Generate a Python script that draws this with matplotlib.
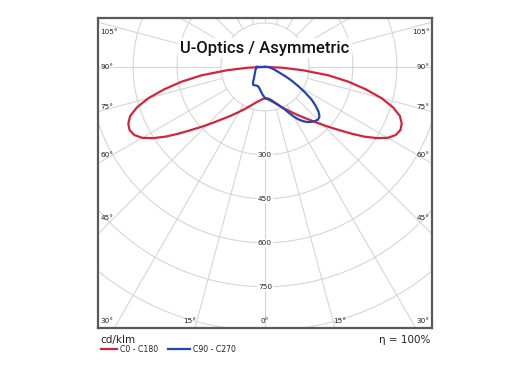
import numpy as np
import matplotlib
matplotlib.use("Agg")
import matplotlib.pyplot as plt
from matplotlib.lines import Line2D

# ---- data (cd/klm vs gamma angle from nadir, degrees) ----
gamma = [0, 2.5, 5, 7.5, 10, 12.5, 15, 17.5, 20, 22.5, 25, 27.5, 30, 32.5, 35, 37.5,
         40, 42.5, 45, 47.5, 50, 52.5, 55, 57.5, 60, 62.5, 65, 67.5, 70, 72.5, 75,
         77.5, 80, 82.5, 85, 87.5, 90]
c0_c180 = [108, 109, 111, 114, 118, 122, 127, 133, 140, 148, 157, 166, 177, 189, 203, 218,
           235, 256, 280, 307, 338, 375, 415, 452, 484, 503, 510, 505, 490, 458, 412,
           352, 288, 218, 130, 58, 0]
c90 = [106, 107, 108, 111, 114, 119, 125, 132, 140, 149, 160, 177, 195, 212, 226, 237,
       245, 251, 255, 252, 239, 218, 194, 162, 131, 105, 80, 58, 45, 37, 31,
       25, 20, 16, 14, 12, 11]
c270 = [106, 100, 95, 89, 84, 79, 75, 72, 70, 70, 70, 71, 72, 73, 72, 67,
        62, 57, 53, 50, 47, 45, 43, 41, 39, 38, 37, 36, 35, 34, 33,
        32, 31, 30, 29, 28, 28]

ring_values = [150, 300, 450, 600, 750, 900]
ring_labels = [300, 450, 600, 750]
radial_angles = list(range(0, 360, 15))

side_labels = ["105°", "90°", "75°", "60°", "45°"]
side_label_y = [118, 0, -136, -300, -515]
bottom_labels = ["30°", "15°", "0°", "15°", "30°"]
bottom_label_x = [-530, -256, 0, 256, 530]

title = "U-Optics / Asymmetric"
unit = "cd/klm"
eta = "η = 100%"
legend_names = ["C0 - C180", "C90 - C270"]
red = "#d4243c"
blue = "#2443b4"
grid_c = "#d6d6d6"

fig = plt.figure(figsize=(5.30, 3.76), dpi=100)
ax = fig.add_axes([98 / 530, 48 / 376, 334 / 530, 310 / 376])
ax.set_xlim(-570, 570)
ax.set_ylim(-891, 167)
ax.set_xticks([])
ax.set_yticks([])
for s in ax.spines.values():
    s.set_color("#5a5a5a")
    s.set_linewidth(1.6)

# grid rings
t = np.linspace(0, 2 * np.pi, 721)
for r in ring_values:
    ax.plot(r * np.cos(t), r * np.sin(t), color=grid_c, lw=0.8, zorder=1)
# radial lines from inner ring outward
for a in radial_angles:
    ar = np.deg2rad(a)
    ax.plot([150 * np.sin(ar), 2000 * np.sin(ar)],
            [-150 * np.cos(ar), -2000 * np.cos(ar)], color=grid_c, lw=0.8, zorder=1)

# ring labels
for v in ring_labels:
    ax.text(0, -v, str(v), ha="center", va="center", fontsize=5.3, color="#222222",
            bbox=dict(boxstyle="square,pad=0.15", fc="white", ec="none"), zorder=3)

# angle labels
for lab, y in zip(side_labels, side_label_y):
    ax.text(-562, y, lab, ha="left", va="center", fontsize=5.2, color="#222222", zorder=3)
    ax.text(562, y, lab, ha="right", va="center", fontsize=5.2, color="#222222", zorder=3)
for lab, x in zip(bottom_labels, bottom_label_x):
    ha = "center"
    if x < -500:
        ha = "left"
        x = -562
    elif x > 500:
        ha = "right"
        x = 562
    ax.text(x, -866, lab, ha=ha, va="center", fontsize=5.2, color="#222222", zorder=3)

# curves
g = np.deg2rad(np.array(gamma))
def side(vals, sign):
    v = np.array(vals, dtype=float)
    return sign * v * np.sin(g), -v * np.cos(g)

xr, yr = side(c0_c180, 1)
xl, yl = side(c0_c180, -1)
ax.plot(np.concatenate([xl[::-1], xr]), np.concatenate([yl[::-1], yr]),
        color=red, lw=1.6, zorder=4, solid_joinstyle="round")
xb1, yb1 = side(c90, 1)
xb2, yb2 = side(c270, -1)
ax.plot(np.concatenate([xb2[::-1], xb1, [xb2[-1]]]), np.concatenate([yb2[::-1], yb1, [yb2[-1]]]),
        color=blue, lw=1.6, zorder=5, solid_joinstyle="round")

# title
ax.text(0, 64, title, ha="center", va="center", fontsize=12, family="Roboto",
        fontweight="medium", color="#111111", zorder=6,
        bbox=dict(boxstyle="square,pad=0.15", fc="white", ec="none"))

# legend and footer
fig.text(100 / 530, 1 - 340 / 376, unit, ha="left", va="center", fontsize=7.5, color="#222222")
fig.text(430 / 530, 1 - 340 / 376, eta, ha="right", va="center", fontsize=7.5, color="#222222")
ly = 1 - 349 / 376
fig.add_artist(Line2D([101 / 530, 117 / 530], [ly, ly], color=red, lw=1.6))
fig.text(120 / 530, ly, legend_names[0], ha="left", va="center", fontsize=5.6, color="#222222")
fig.add_artist(Line2D([168 / 530, 190 / 530], [ly, ly], color=blue, lw=1.6))
fig.text(193 / 530, ly, legend_names[1], ha="left", va="center", fontsize=5.6, color="#222222")

fig.savefig("out.png", dpi=100)
